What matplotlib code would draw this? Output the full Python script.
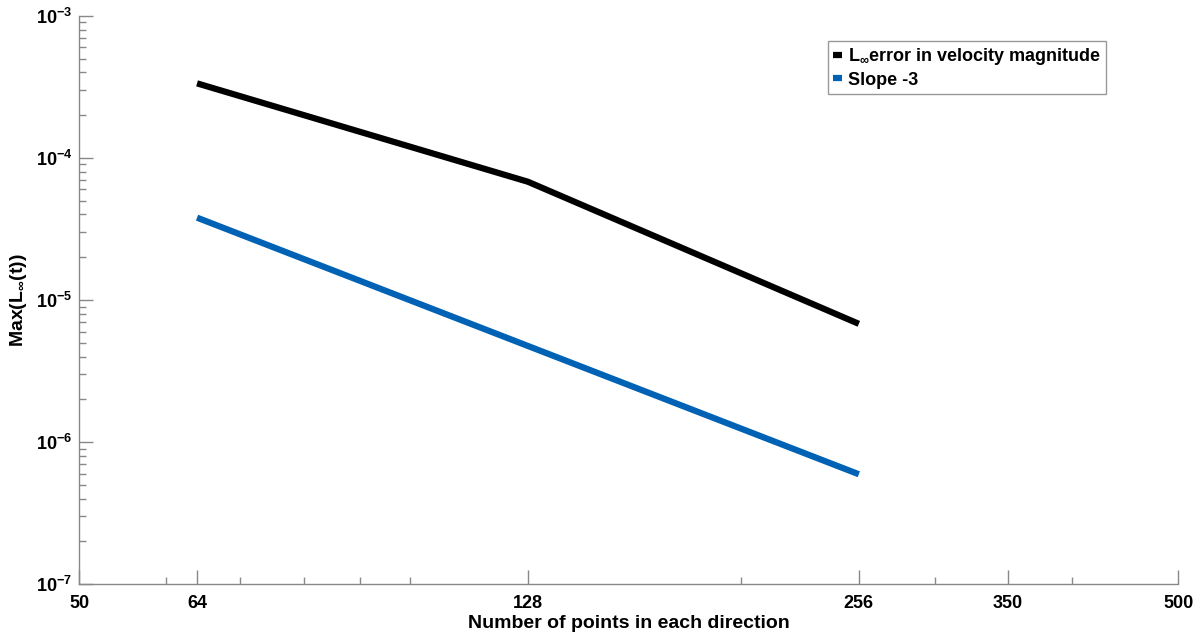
import numpy as np
import matplotlib.pyplot as plt
from matplotlib.ticker import FixedLocator, FixedFormatter, LogLocator, NullFormatter

plt.rcParams['font.family'] = ['Liberation Sans', 'DejaVu Sans']
plt.rcParams['font.weight'] = 'bold'
plt.rcParams['mathtext.fontset'] = 'custom'
plt.rcParams['mathtext.rm'] = 'Liberation Sans:bold'
plt.rcParams['mathtext.bf'] = 'Liberation Sans:bold'
plt.rcParams['mathtext.it'] = 'Liberation Sans:bold:italic'

# ── Data ─────────────────────────────────────────────
n_points = [64, 128, 256]
linf_err = [3.35e-4, 6.8e-5, 6.8e-6]
slope_ref = [3.8e-5, 4.75e-6, 5.94e-7]

x_ticks = [50, 64, 128, 256, 350, 500]
x_minor = [60, 70, 80, 90, 100, 200, 300, 400]
y_ticks = [1e-7, 1e-6, 1e-5, 1e-4, 1e-3]
y_labels = [r'$\mathbf{10^{-7}}$', r'$\mathbf{10^{-6}}$', r'$\mathbf{10^{-5}}$',
            r'$\mathbf{10^{-4}}$', r'$\mathbf{10^{-3}}$']

fig = plt.figure(figsize=(12, 6.35), dpi=100)
ax = fig.add_axes([0.066, 0.08, 0.916, 0.895])

ax.loglog(n_points, linf_err, color='black', lw=4.5,
          label=r'L$_{\infty}$error in velocity magnitude', solid_capstyle='butt')
ax.loglog(n_points, slope_ref, color='#0062B4', lw=4.5,
          label='Slope -3', solid_capstyle='butt')

ax.set_xlim(50, 500)
ax.set_ylim(1e-7, 1e-3)

ax.xaxis.set_major_locator(FixedLocator(x_ticks))
ax.xaxis.set_major_formatter(FixedFormatter([str(v) for v in x_ticks]))
ax.xaxis.set_minor_locator(FixedLocator(x_minor))
ax.xaxis.set_minor_formatter(NullFormatter())

ax.yaxis.set_major_locator(FixedLocator(y_ticks))
ax.yaxis.set_major_formatter(FixedFormatter(y_labels))
ax.yaxis.set_minor_locator(LogLocator(base=10, subs=np.arange(2, 10)))
ax.yaxis.set_minor_formatter(NullFormatter())

for s in ['top', 'right']:
    ax.spines[s].set_visible(False)
for s in ['left', 'bottom']:
    ax.spines[s].set_color('#888888')
    ax.spines[s].set_linewidth(1.0)

ax.tick_params(which='major', direction='in', length=10, width=1, color='#888888',
               labelsize=13)
ax.tick_params(which='minor', direction='in', length=5, width=1, color='#888888')
ax.tick_params(axis='y', which='major', pad=5)
ax.tick_params(axis='x', which='major', pad=8)

ax.set_xlabel('Number of points in each direction', fontsize=14, fontweight='bold')
ax.set_ylabel(r'Max(L$_{\infty}$(t))', fontsize=14, fontweight='bold')
ax.xaxis.set_label_coords(0.5, -0.055)
ax.yaxis.set_label_coords(-0.046, 0.5)

leg = ax.legend(loc='upper right', bbox_to_anchor=(0.9345, 0.956), fontsize=13,
                handlelength=0.5, handletextpad=0.3, borderpad=0.3,
                labelspacing=0.25, fancybox=False, framealpha=1,
                edgecolor='#999999', borderaxespad=0)
leg.get_frame().set_linewidth(1.0)

plt.savefig('out.png', dpi=100, facecolor='white')
